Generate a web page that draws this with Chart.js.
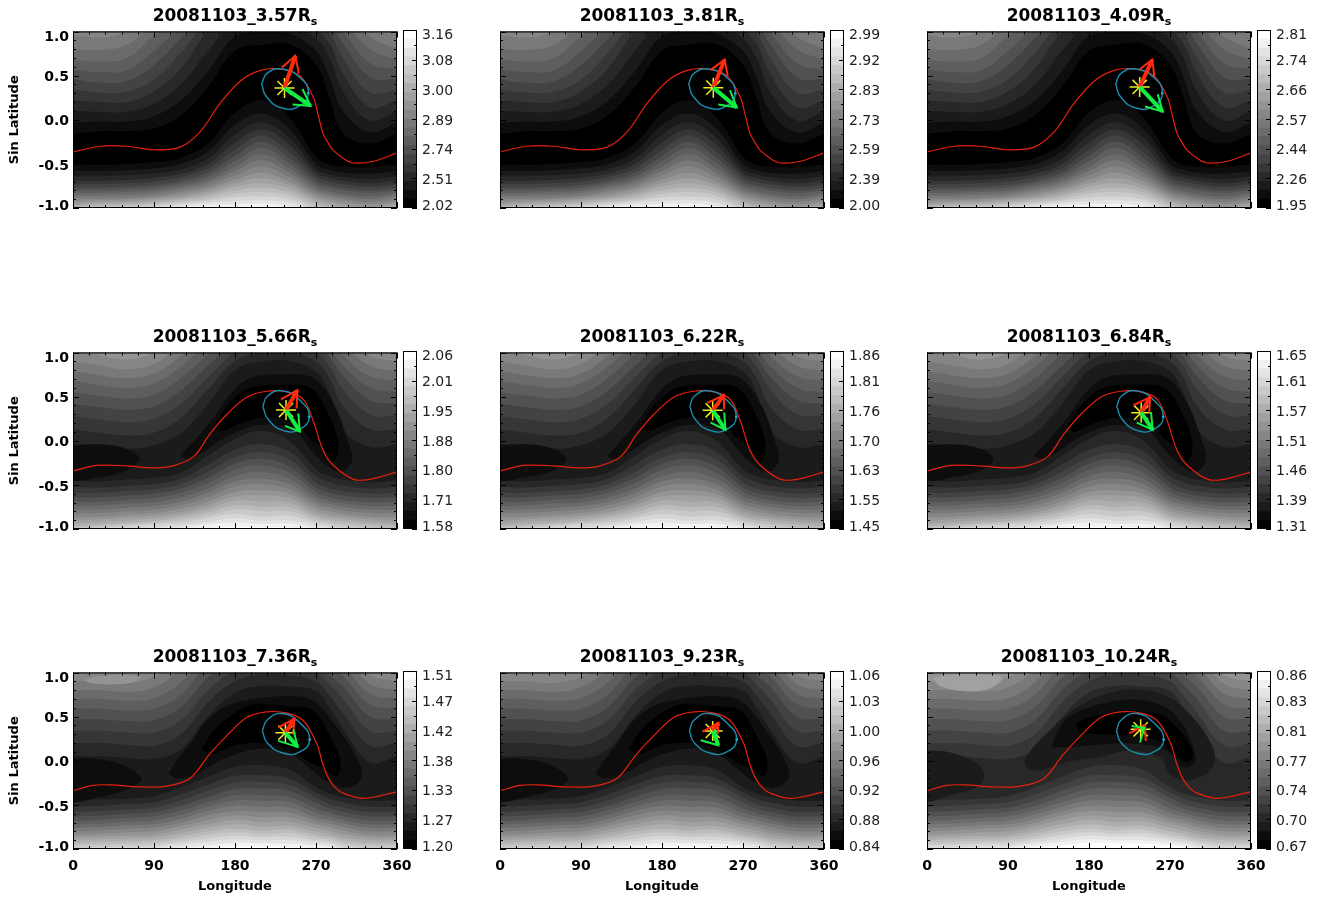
<!DOCTYPE html>
<html>
<head>
<meta charset="utf-8">
<style>
  html, body { margin: 0; background: #fff; }
  body { position: relative; width: 1329px; height: 898px; overflow: hidden; }
  canvas { position: absolute; }
  .ptitle { position: absolute; width: 324px; text-align: center; font: bold 17px "DejaVu Sans"; color: #000; line-height: 20px; white-space: nowrap; }
  .ptitle sub { font-size: 11px; line-height: 0; vertical-align: -4px; }
</style>
<script src="https://cdn.jsdelivr.net/npm/chart.js"></script>
</head>
<body>
<script>
const titles = ["20081103_3.57", "20081103_3.81", "20081103_4.09", "20081103_5.66", "20081103_6.22", "20081103_6.84", "20081103_7.36", "20081103_9.23", "20081103_10.24"];
const barLabels = [
  ["2.02", "2.51", "2.74", "2.89", "3.00", "3.08", "3.16"],
  ["2.00", "2.39", "2.59", "2.73", "2.83", "2.92", "2.99"],
  ["1.95", "2.26", "2.44", "2.57", "2.66", "2.74", "2.81"],
  ["1.58", "1.71", "1.80", "1.88", "1.95", "2.01", "2.06"],
  ["1.45", "1.55", "1.63", "1.70", "1.76", "1.81", "1.86"],
  ["1.31", "1.39", "1.46", "1.51", "1.57", "1.61", "1.65"],
  ["1.20", "1.27", "1.33", "1.38", "1.42", "1.47", "1.51"],
  ["0.84", "0.88", "0.92", "0.96", "1.00", "1.03", "1.06"],
  ["0.67", "0.70", "0.74", "0.77", "0.81", "0.83", "0.86"]
];
const barTickPos = [0, 3.33, 6.67, 10, 13.33, 16.67, 20];
const barMinorPos = [1.67, 5, 8.33, 11.67, 15, 18.33];
const xMajor = [0, 90, 180, 270, 360];
const xMinor = [18, 36, 54, 72, 108, 126, 144, 162, 198, 216, 234, 252, 288, 306, 324, 342];
const yMajor = [-1, -0.5, 0, 0.5, 1];
const yMinor = [-0.9, -0.8, -0.7, -0.6, -0.4, -0.3, -0.2, -0.1, 0.1, 0.2, 0.3, 0.4, 0.6, 0.7, 0.8, 0.9];

// contour lines are read at these longitudes
const lonGrid = [0, 30, 60, 90, 120, 150, 180, 210, 240, 270, 285, 300, 330, 360];

// upper contours: one list per longitude of lonGrid
const row1UpperCols = [
  [-.16, -.03, .10, .22, .34, .46, .57, .68, .80, .96],
  [-.13, -.02, .09, .20, .31, .42, .54, .66, .79, .93],
  [-.13, -.02, .09, .20, .32, .44, .56, .70, .85, 1.0],
  [-.10, .04, .18, .32, .46, .62, .78, .95, 1.08, 1.15],
  [.05, .22, .40, .58, .76, .92, 1.05, 1.15, 1.2, 1.2],
  [.37, .55, .78, 1.0, 1.1, 1.2, 1.2, 1.2, 1.2, 1.2],
  [.78, .95, 1.1, 1.2, 1.2, 1.2, 1.2, 1.2, 1.2, 1.2],
  [.85, 1.0, 1.1, 1.2, 1.2, 1.2, 1.2, 1.2, 1.2, 1.2],
  [.86, .98, 1.1, 1.2, 1.2, 1.2, 1.2, 1.2, 1.2, 1.2],
  [.62, .78, .92, 1.02, 1.1, 1.2, 1.2, 1.2, 1.2, 1.2],
  [.25, .48, .70, .86, .98, 1.1, 1.2, 1.2, 1.2, 1.2],
  [-.15, .10, .32, .52, .70, .86, 1.0, 1.1, 1.2, 1.2],
  [-.27, -.14, -.01, .14, .31, .48, .64, .80, .94, 1.08],
  [-.16, -.03, .10, .22, .34, .46, .57, .68, .80, .96]
];
const row1LowerCols = [
  [-.50, -.58, -.64, -.69, -.73, -.77, -.80, -.83, -.86, -.89, -.92, -.95, -.97, -.99, -1.02, -1.05, -1.07, -1.09, -1.1],
  [-.51, -.58, -.64, -.69, -.73, -.77, -.80, -.83, -.86, -.89, -.91, -.93, -.95, -.97, -.99, -1.02, -1.04, -1.06, -1.08],
  [-.50, -.57, -.63, -.68, -.72, -.76, -.79, -.82, -.85, -.88, -.90, -.92, -.94, -.96, -.98, -1.0, -1.02, -1.04, -1.06],
  [-.48, -.55, -.61, -.66, -.70, -.74, -.77, -.80, -.83, -.86, -.88, -.90, -.92, -.94, -.96, -.98, -1.0, -1.02, -1.04],
  [-.43, -.50, -.56, -.61, -.65, -.69, -.72, -.75, -.78, -.81, -.84, -.87, -.89, -.91, -.93, -.95, -.97, -.99, -1.01],
  [-.27, -.36, -.44, -.50, -.55, -.60, -.64, -.68, -.71, -.75, -.78, -.81, -.84, -.87, -.90, -.92, -.94, -.97, -1.0],
  [.08, -.06, -.17, -.26, -.34, -.41, -.47, -.53, -.58, -.63, -.68, -.72, -.76, -.80, -.84, -.88, -.92, -.96, -.995],
  [.22, .07, -.03, -.11, -.18, -.25, -.32, -.39, -.46, -.53, -.60, -.66, -.72, -.77, -.82, -.87, -.91, -.95, -.985],
  [.03, -.10, -.20, -.28, -.36, -.43, -.49, -.55, -.60, -.65, -.70, -.74, -.78, -.82, -.86, -.90, -.94, -.98, -1.02],
  [-.42, -.50, -.56, -.61, -.65, -.69, -.73, -.76, -.80, -.83, -.86, -.89, -.92, -.95, -.98, -1.01, -1.03, -1.05, -1.07],
  [-.51, -.57, -.62, -.66, -.70, -.74, -.77, -.81, -.84, -.87, -.90, -.93, -.96, -.99, -1.02, -1.04, -1.06, -1.08, -1.1],
  [-.53, -.60, -.65, -.69, -.73, -.77, -.80, -.84, -.87, -.90, -.93, -.96, -.99, -1.02, -1.04, -1.06, -1.08, -1.1, -1.12],
  [-.54, -.61, -.67, -.72, -.76, -.80, -.83, -.87, -.90, -.93, -.96, -.99, -1.02, -1.04, -1.06, -1.08, -1.1, -1.12, -1.14],
  [-.50, -.58, -.64, -.69, -.73, -.77, -.80, -.83, -.86, -.89, -.92, -.95, -.97, -.99, -1.02, -1.05, -1.07, -1.09, -1.1]
];

// row 2
const row2UpperCols = [
  [-.04, .13, .28, .42, .55, .68, .79, .90, 1.03],
  [-.05, .09, .24, .38, .51, .63, .74, .85, .97],
  [-.09, .06, .21, .35, .48, .60, .71, .81, .92],
  [-.05, .09, .25, .39, .52, .65, .76, .87, 1.0],
  [.09, .26, .42, .57, .71, .84, .96, 1.08, 1.2],
  [.42, .58, .72, .85, .98, 1.1, 1.2, 1.2, 1.2],
  [.80, .90, 1.0, 1.1, 1.2, 1.2, 1.2, 1.2, 1.2],
  [.90, 1.0, 1.1, 1.2, 1.2, 1.2, 1.2, 1.2, 1.2],
  [.905, 1.0, 1.1, 1.2, 1.2, 1.2, 1.2, 1.2, 1.2],
  [.785, .90, 1.0, 1.1, 1.2, 1.2, 1.2, 1.2, 1.2],
  [.54, .71, .84, .95, 1.05, 1.15, 1.2, 1.2, 1.2],
  [.13, .39, .58, .73, .85, .97, 1.08, 1.2, 1.2],
  [-.07, .13, .30, .46, .60, .73, .85, .96, 1.08],
  [-.04, .13, .28, .42, .55, .68, .79, .90, 1.03]
];
const row2LowerCols = [
  [-.45, -.52, -.59, -.64, -.69, -.74, -.785, -.83, -.87, -.91, -.94, -.97, -.99, -1.02, -1.04, -1.06, -1.08],
  [-.46, -.53, -.59, -.64, -.69, -.73, -.78, -.82, -.86, -.89, -.92, -.95, -.97, -.99, -1.02, -1.04, -1.06],
  [-.44, -.51, -.57, -.62, -.67, -.71, -.76, -.80, -.84, -.87, -.90, -.93, -.95, -.97, -.995, -1.02, -1.04],
  [-.42, -.49, -.55, -.60, -.65, -.70, -.74, -.78, -.82, -.85, -.88, -.91, -.93, -.95, -.98, -1.0, -1.02],
  [-.36, -.43, -.49, -.54, -.59, -.64, -.69, -.73, -.77, -.81, -.84, -.87, -.90, -.93, -.96, -.985, -1.01],
  [-.17, -.27, -.35, -.42, -.48, -.54, -.59, -.64, -.69, -.73, -.77, -.81, -.85, -.88, -.92, -.95, -.99],
  [.02, -.10, -.19, -.26, -.33, -.40, -.46, -.52, -.58, -.63, -.68, -.73, -.78, -.83, -.88, -.93, -.975],
  [.11, -.04, -.13, -.205, -.28, -.355, -.43, -.49, -.56, -.62, -.69, -.75, -.80, -.86, -.905, -.945, -.98],
  [.0, -.12, -.21, -.29, -.36, -.43, -.49, -.55, -.60, -.65, -.70, -.75, -.80, -.85, -.90, -.94, -.985],
  [-.32, -.40, -.47, -.53, -.58, -.63, -.68, -.72, -.76, -.80, -.84, -.87, -.90, -.93, -.96, -.99, -1.02],
  [-.40, -.47, -.54, -.59, -.64, -.68, -.72, -.76, -.80, -.84, -.87, -.90, -.93, -.96, -.985, -1.01, -1.03],
  [-.44, -.51, -.57, -.62, -.67, -.71, -.75, -.79, -.83, -.86, -.89, -.92, -.95, -.98, -1.0, -1.02, -1.04],
  [-.47, -.54, -.60, -.65, -.70, -.74, -.78, -.82, -.86, -.89, -.92, -.95, -.98, -1.0, -1.02, -1.04, -1.06],
  [-.45, -.52, -.59, -.64, -.69, -.74, -.785, -.83, -.87, -.91, -.94, -.97, -.99, -1.02, -1.04, -1.06, -1.08]
];
const row2ArcOuter = [[119, -.17], [141, .075], [156, .26], [174, .52], [197, .71], [234, .75], [267, .71], [290, .41], [304, .04], [310, -.22], [297, -.355], [275, -.22], [264, -.1], [245, .12], [212, .18], [186, .12], [163, .0], [141, -.15], [126, -.205], [119, -.17]];
const row2ArcInner = [[156, .17], [174, .43], [197, .6], [234, .635], [264, .6], [284, .3], [295, -.04], [289.5, -.24], [280, -.1], [264, .02], [245, .22], [212, .26], [186, .2], [163, .1], [156, .17]];
const row2LeftLens = [[-5, -.056], [30, -.04], [59, -.09], [74, -.205], [59, -.34], [30, -.41], [-5, -.43], [-5, -.056]];

// row 3
const row3UpperCols = [
  [.05, .20, .34, .47, .59, .70, .80, .90],
  [.05, .20, .34, .47, .59, .70, .80, .90],
  [.03, .18, .32, .45, .57, .68, .78, .88],
  [.02, .17, .32, .46, .59, .71, .83, .95],
  [.13, .30, .46, .61, .75, .89, 1.02, 1.12],
  [.50, .66, .80, .94, 1.08, 1.2, 1.2, 1.2],
  [.77, .90, 1.02, 1.15, 1.2, 1.2, 1.2, 1.2],
  [.85, .98, 1.1, 1.2, 1.2, 1.2, 1.2, 1.2],
  [.84, .97, 1.1, 1.2, 1.2, 1.2, 1.2, 1.2],
  [.79, .90, 1.0, 1.1, 1.2, 1.2, 1.2, 1.2],
  [.60, .74, .86, .97, 1.08, 1.2, 1.2, 1.2],
  [.36, .54, .70, .84, .96, 1.08, 1.2, 1.2],
  [-.02, .17, .34, .50, .64, .76, .87, .97],
  [.05, .20, .34, .47, .59, .70, .80, .90]
];
const row3LowerCols = [
  [-.45, -.52, -.58, -.63, -.68, -.72, -.76, -.80, -.84, -.87, -.90, -.93, -.96, -.99, -1.02, -1.04, -1.06],
  [-.44, -.51, -.57, -.62, -.67, -.71, -.75, -.79, -.83, -.86, -.89, -.92, -.95, -.98, -1.0, -1.02, -1.04],
  [-.43, -.49, -.55, -.60, -.65, -.69, -.73, -.77, -.81, -.85, -.88, -.91, -.94, -.97, -.995, -1.02, -1.04],
  [-.40, -.47, -.53, -.58, -.63, -.68, -.72, -.76, -.80, -.84, -.87, -.90, -.93, -.96, -.985, -1.01, -1.03],
  [-.30, -.38, -.45, -.51, -.56, -.61, -.66, -.70, -.74, -.78, -.82, -.86, -.89, -.92, -.95, -.98, -1.01],
  [-.18, -.27, -.34, -.41, -.47, -.52, -.57, -.62, -.67, -.72, -.76, -.80, -.84, -.88, -.92, -.96, -.99],
  [-.07, -.17, -.25, -.32, -.39, -.45, -.51, -.57, -.62, -.67, -.72, -.77, -.81, -.85, -.89, -.93, -.97],
  [-.05, -.165, -.24, -.315, -.39, -.455, -.52, -.58, -.64, -.695, -.745, -.79, -.83, -.865, -.90, -.935, -.97],
  [-.10, -.20, -.27, -.34, -.41, -.47, -.53, -.59, -.64, -.69, -.74, -.78, -.82, -.86, -.90, -.94, -.98],
  [-.30, -.36, -.42, -.48, -.54, -.59, -.64, -.68, -.72, -.76, -.80, -.84, -.87, -.90, -.93, -.96, -.99],
  [-.37, -.43, -.49, -.54, -.59, -.63, -.67, -.71, -.75, -.79, -.83, -.86, -.89, -.92, -.95, -.98, -1.01],
  [-.41, -.47, -.53, -.58, -.63, -.67, -.71, -.75, -.79, -.83, -.87, -.90, -.93, -.96, -.99, -1.02, -1.04],
  [-.45, -.52, -.58, -.63, -.68, -.72, -.76, -.80, -.84, -.87, -.90, -.93, -.96, -.99, -1.02, -1.04, -1.06],
  [-.45, -.52, -.58, -.63, -.68, -.72, -.76, -.80, -.84, -.87, -.90, -.93, -.96, -.99, -1.02, -1.04, -1.06]
];
const row3ArcOuter = [[106, -.15], [115, 0], [130, .19], [148, .45], [171, .62], [200, .70], [238, .73], [267, .68], [293, .38], [315, .04], [321, -.18], [308, -.30], [286, -.26], [267, -.12], [241, .08], [212, .14], [182, .08], [156, -.04], [134, -.17], [115, -.20], [106, -.15]];
const row3ArcInner = [[143, .12], [156, .34], [178, .53], [200, .64], [238, .62], [267, .57], [286, .27], [297, 0], [293, -.18], [282, -.11], [264, -.02], [238, .14], [212, .2], [182, .18], [156, .08], [143, .12]];
const row3LeftLens = [[-5, .02], [26, .02], [56, -.05], [76, -.20], [59, -.33], [30, -.41], [-5, -.445], [-5, .02]];
const row3TopBlob = [[13, .92], [30, .96], [52, .975], [76, .945], [63, .88], [37, .865], [19, .88], [13, .92]];

// last panel: three nested dark regions and a wider bright patch
const lastArcWide = [[108.5, .004], [118, .154], [140, .378], [166, .603], [192, .734], [229, .809], [266, .734], [292, .528], [314, .228], [320, .004], [310, -.146], [288, -.22], [270, -.146], [258.5, .04], [225, .116], [192, .04], [155, -.015], [125, -.11], [110, -.07], [108.5, .004]];
const lastArcMid = [[138, .154], [151, .434], [166, .547], [192, .64], [229, .697], [262, .622], [284, .416], [297, .116], [297, -.034], [284, -.07], [266, .116], [236, .19], [199, .19], [162, .154], [138, .154]];
const lastArcCore = [[166, .434], [188, .509], [221, .547], [258.5, .528], [284, .303], [295.5, .079], [290, -.015], [273, .079], [258.5, .228], [221, .285], [192, .303], [170, .322], [166, .434]];
const lastLeftLens = [[-5, .116], [25, .097], [56, -.034], [63.5, -.165], [56, -.296], [25, -.39], [-5, -.446], [-5, .116]];
const lastTopBlob = [[6.7, .94], [29, .978], [62, .978], [84, .94], [70, .82], [40, .79], [14, .846], [6.7, .94]];

// neutral line, one per row
const neutral1 = [[0, -.365], [30, -.30], [59, -.30], [89, -.34], [119, -.31], [141, -.14], [163, .18], [186, .44], [208, .56], [230, .575], [252, .50], [267, .255], [273, .03], [278, -.16], [284, -.27], [289, -.345], [300.7, -.44], [312, -.49], [334, -.47], [360, -.375]];
const neutral2 = [[0, -.344], [26, -.28], [59, -.284], [89, -.307], [111, -.284], [134, -.18], [152, .075], [171, .30], [193, .493], [215, .561], [238, .553], [256, .467], [267, .224], [278, -.112], [289.5, -.28], [312, -.437], [330, -.437], [360, -.355]];
const neutral3 = [[0, -.34], [22, -.28], [41, -.273], [74, -.296], [104, -.288], [130, -.20], [152, .079], [171, .285], [193, .49], [215, .554], [238, .54], [256, .453], [271, .19], [277, -.02], [284, -.20], [292, -.31], [301, -.37], [323, -.427], [360, -.352]];

// ellipse, one per row
const ellipse1 = [[209.6, .404], [215.5, .525], [232, .575], [253, .47], [261.5, .30], [252, .16], [233, .13], [215, .26], [209.6, .404]];
const ellipse2 = [[210.8, .39], [216.5, .51], [233, .565], [253, .45], [262.5, .27], [252, .13], [234, .115], [217, .24], [210.8, .39]];
const ellipse3 = [[210.4, .34], [216, .465], [233, .535], [253, .42], [263, .24], [252, .10], [234, .085], [216, .2], [210.4, .34]];

// one entry per panel
const starPoints = [[235, .36], [237, .364], [236.3, .372], [236.7, .348], [236.3, .345], [238, .318], [236, .318], [236.3, .337], [237.4, .356]];
const redTips = [[247, .724], [249.6, .682], [250.4, .682], [249.2, .573], [248.9, .517], [247.8, .494], [245.9, .475], [242.6, .43], [242.2, .401]];
const redBarbA = [[232, .593], [234, .562], [236, .57], [231, .468], [230.4, .43], [229.3, .401], [228, .374], [225, .33], [224.8, .311]];
const redBarbB = [[251, .525], [253, .497], [252.6, .487], [248.5, .367], [248.9, .356], [247, .318], [244.8, .3], [241.9, .3], [243, .225]];
const greenTips = [[264, .158], [263, .139], [261.9, .093], [252, .105], [250.4, .124], [250.8, .124], [249.6, .157], [242.6, .176], [241.4, .374]];
const greenBarbA = [[255, .349], [255.5, .335], [256.3, .29], [250.3, .311], [249.2, .318], [248.9, .326], [244.8, .356], [238.9, .356], [227.4, .393]];
const greenBarbB = [[244, .173], [242.6, .174], [242.2, .15], [235.5, .169], [234, .206], [233, .206], [228, .225], [223, .232], [236.7, .206]];
const ellipseDots = [[261.5, .30], [261.5, .30], [261.5, .30], [262.5, .27], [262.5, .27], [262.5, .27], [263, .24], [263, .24], [263, .24]];

const colLeft = [73, 500, 927];
const rowTop = [30, 351, 671];
const titleTop = [5, 326, 646];
const plotW = 324, plotH = 178;
const levels = 20;

const toPts = a => a.map(p => ({ x: p[0], y: p[1] }));
const gray = i => { const g = Math.min(255, Math.round(i * 255 / (levels - 1))); return `rgb(${g},${g},${g})`; };
const flip = cols => cols[0].map((_, i) => cols.map(c => c[i]));

const row1Field = { base: 0, upper: flip(row1UpperCols), lower: flip(row1LowerCols), islands: [], line: neutral1, ellipse: ellipse1 };
const row2Field = { base: 2, upper: flip(row2UpperCols), lower: flip(row2LowerCols), line: neutral2, ellipse: ellipse2,
  islands: [[1, row2ArcOuter], [1, row2LeftLens], [0, row2ArcInner]] };
const row3Field = { base: 2, upper: flip(row3UpperCols), lower: flip(row3LowerCols), line: neutral3, ellipse: ellipse3,
  islands: [[1, row3ArcOuter], [1, row3LeftLens], [0, row3ArcInner]] };
const fields = [row1Field, row1Field, row1Field, row2Field, row2Field, row2Field,
  Object.assign({}, row3Field, { islands: row3Field.islands.concat([[11, row3TopBlob]]) }),
  row3Field,
  Object.assign({}, row3Field, { base: 3, islands: [[2, lastArcWide], [2, lastLeftLens], [1, lastArcMid], [0, lastArcCore], [12, lastTopBlob]] })];

// IDL draws its ticks inward on all four sides
const framePlugin = {
  id: "frame",
  afterDatasetsDraw(chart, args, opts) {
    const { ctx, chartArea: a, scales } = chart;
    ctx.save();
    ctx.strokeStyle = "#000";
    ctx.lineWidth = 1;
    ctx.beginPath();
    const vTick = (v, len) => {
      const x = Math.round(scales.x.getPixelForValue(v)) + 0.5;
      ctx.moveTo(x, a.bottom); ctx.lineTo(x, a.bottom - len);
      ctx.moveTo(x, a.top); ctx.lineTo(x, a.top + len);
    };
    const hTick = (v, len) => {
      const y = Math.round(scales.y.getPixelForValue(v)) + 0.5;
      if (!opts.bar) { ctx.moveTo(a.left, y); ctx.lineTo(a.left + len, y); }
      ctx.moveTo(a.right, y); ctx.lineTo(a.right - len, y);
    };
    if (opts.bar) {
      barTickPos.forEach(v => hTick(v, 5));
      barMinorPos.forEach(v => hTick(v, 3));
    } else {
      xMajor.forEach(v => vTick(v, 6));
      xMinor.forEach(v => vTick(v, 3));
      yMajor.forEach(v => hTick(v, 6));
      yMinor.forEach(v => hTick(v, 3));
    }
    ctx.stroke();
    ctx.strokeRect(a.left + 0.5, a.top + 0.5, a.right - a.left - 1, a.bottom - a.top - 1);
    ctx.restore();
  }
};

function addCanvas(left, top, w, h) {
  const c = document.createElement("canvas");
  c.width = w; c.height = h;
  c.style.left = left + "px"; c.style.top = top + "px";
  c.style.width = w + "px"; c.style.height = h + "px";
  document.body.appendChild(c);
  return c;
}

// keep the label overhang from shrinking the plot area
function fixBox(s, w, h) {
  if (w) s.width = w;
  if (h) s.height = h;
  s.paddingLeft = s.paddingRight = s.paddingTop = s.paddingBottom = 0;
}

function mapDatasets(p) {
  const f = fields[p];
  const sets = [];
  const add = d => { sets.push(Object.assign({ borderWidth: 0, pointRadius: 0, fill: false, tension: 0, order: -sets.length }, d)); };
  add({ data: [{ x: 0, y: -1 }, { x: 360, y: -1 }], fill: "end", backgroundColor: gray(f.base) });
  f.upper.forEach((c, i) => add({ data: c.map((y, j) => ({ x: lonGrid[j], y })), fill: "end", tension: 0.4, backgroundColor: gray(f.base + 1 + i) }));
  f.lower.forEach((c, i) => add({ data: c.map((y, j) => ({ x: lonGrid[j], y })), fill: "start", tension: 0.4, backgroundColor: gray(f.base + 1 + i) }));
  f.islands.forEach(([lev, pts]) => add({ data: toPts(pts), fill: "shape", tension: 0.35, backgroundColor: gray(lev) }));
  add({ data: toPts(f.line), borderColor: "#e8200e", borderWidth: 1.2, tension: 0.35 });
  add({ data: toPts(f.ellipse), borderColor: "#1c8db0", borderWidth: 1.4, tension: 0.5 });
  add({ data: toPts([ellipseDots[p]]), pointRadius: 1.4, pointBackgroundColor: "#22a8d0", pointBorderWidth: 0 });
  add({ data: toPts([starPoints[p]]), pointStyle: "star", pointRadius: 10, pointBorderColor: "#f0f020", pointBorderWidth: 1.5 });
  add({ data: toPts([starPoints[p], redTips[p]]), borderColor: "#ff2a10", borderWidth: 4 });
  add({ data: toPts([redBarbA[p], redTips[p], redBarbB[p]]), borderColor: "#ff2a10", borderWidth: 2 });
  add({ data: toPts([starPoints[p], greenTips[p]]), borderColor: "#10f040", borderWidth: 4 });
  add({ data: toPts([greenBarbA[p], greenTips[p], greenBarbB[p]]), borderColor: "#10f040", borderWidth: 2 });
  return sets;
}

function drawMap(p) {
  const col = p % 3, row = Math.floor(p / 3);
  const left = colLeft[col], top = rowTop[row];
  const c = addCanvas(left - 70, top - 10, 70 + plotW + 20, 10 + plotH + 45);
  new Chart(c.getContext("2d"), {
    type: "line",
    data: { datasets: mapDatasets(p) },
    plugins: [framePlugin],
    options: {
      responsive: false, animation: false, events: [],
      layout: { padding: { top: 10, right: 20, left: 0, bottom: 0 } },
      plugins: { legend: { display: false }, tooltip: { enabled: false }, title: { display: false }, frame: {} },
      scales: {
        x: {
          type: "linear", min: 0, max: 360,
          grid: { display: false, drawTicks: false }, border: { display: false },
          ticks: { display: row === 2, stepSize: 90, padding: 9, autoSkip: false, maxRotation: 0, color: "#000", font: { family: "DejaVu Sans", weight: "bold", size: 14 } },
          title: { display: row === 2, text: "Longitude", color: "#000", padding: { top: 0, bottom: 0 }, font: { family: "DejaVu Sans", weight: "bold", size: 13 } },
          afterFit: s => fixBox(s, 0, 45)
        },
        y: {
          type: "linear", min: -1, max: 1,
          grid: { display: false, drawTicks: false }, border: { display: false },
          ticks: {
            display: col === 0, stepSize: 0.5, padding: 4, autoSkip: false, color: "#000", labelOffset: 2,
            font: { family: "DejaVu Sans", weight: "bold", size: 14, lineHeight: 0.5 },
            // two-line label moves the end labels inward, as in the original
            callback: v => v === 1 ? ["", "1.0"] : v === -1 ? ["-1.0", ""] : v.toFixed(1)
          },
          title: { display: col === 0, text: "Sin Latitude", color: "#000", padding: { top: 4, bottom: 0 }, font: { family: "DejaVu Sans", weight: "bold", size: 13 } },
          afterFit: s => fixBox(s, 70, 0)
        }
      }
    }
  });
}

function drawBar(p) {
  const col = p % 3, row = Math.floor(p / 3);
  const left = colLeft[col] + plotW + 6, top = rowTop[row];
  const c = addCanvas(left, top - 10, 60, plotH + 20);
  const sets = [];
  for (let i = 0; i < levels; i++) sets.push({ data: [1], backgroundColor: gray(i), stack: "a", barPercentage: 1, categoryPercentage: 1 });
  new Chart(c.getContext("2d"), {
    type: "bar",
    data: { labels: [""], datasets: sets },
    plugins: [framePlugin],
    options: {
      responsive: false, animation: false, events: [],
      layout: { padding: { top: 10, bottom: 10 } },
      plugins: { legend: { display: false }, tooltip: { enabled: false }, frame: { bar: true } },
      scales: {
        x: { display: false, stacked: true },
        y: {
          position: "right", stacked: true, min: 0, max: levels,
          grid: { display: false, drawTicks: false }, border: { display: false },
          afterBuildTicks: s => { s.ticks = barTickPos.map(v => ({ value: v })); },
          ticks: {
            padding: 5, autoSkip: false, color: "#222", labelOffset: 2,
            font: { family: "DejaVu Sans", size: 14, lineHeight: 0.5 },
            callback: (v, i) => i === 6 ? ["", barLabels[p][i]] : i === 0 ? [barLabels[p][i], ""] : barLabels[p][i]
          },
          afterFit: s => fixBox(s, 46, 0)
        }
      }
    }
  });
}

function drawTitle(p) {
  const d = document.createElement("div");
  d.className = "ptitle";
  d.style.left = colLeft[p % 3] + "px";
  d.style.top = titleTop[Math.floor(p / 3)] + "px";
  d.innerHTML = titles[p] + "R<sub>s</sub>";
  document.body.appendChild(d);
}

for (let p = 0; p < 9; p++) {
  drawMap(p);
  drawBar(p);
  drawTitle(p);
}
</script>
</body>
</html>
